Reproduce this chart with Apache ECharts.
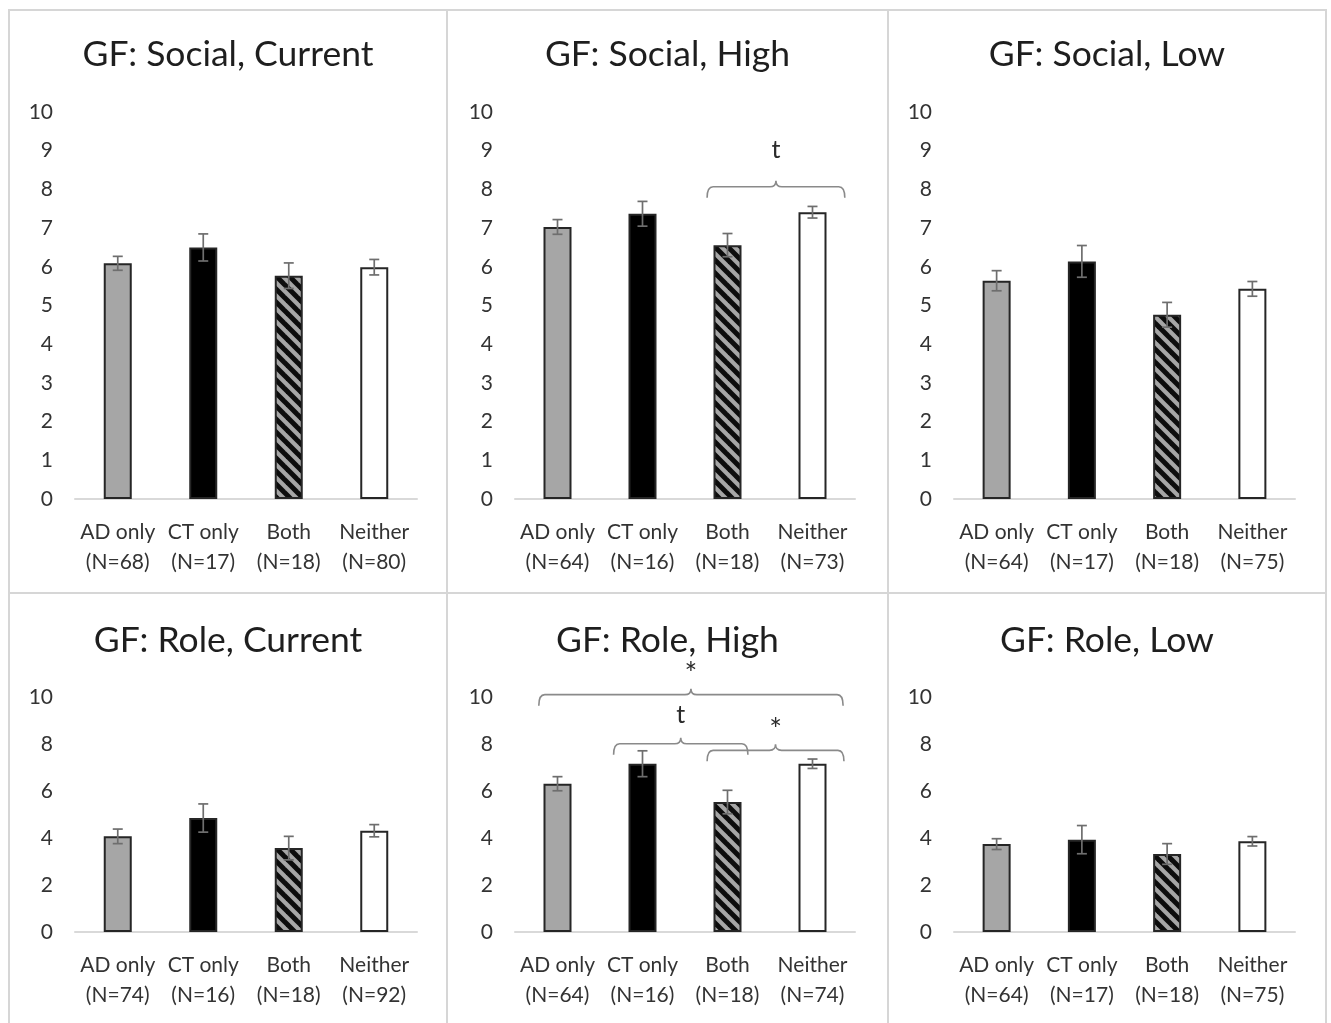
<!DOCTYPE html>
<html>
<head>
<meta charset="utf-8">
<script src="https://cdn.jsdelivr.net/npm/echarts@6/dist/echarts.min.js"></script>
<style>
  html, body { margin: 0; padding: 0; background: #ffffff; }
  #chart { width: 1331px; height: 1023px; }
</style>
</head>
<body>
<div id="chart"></div>
<script>
// ---- data -------------------------------------------------------------
const groups = ['AD only', 'CT only', 'Both', 'Neither'];

const titleSocialCurrent = 'GF: Social, Current';
const titleSocialHigh    = 'GF: Social, High';
const titleSocialLow     = 'GF: Social, Low';
const titleRoleCurrent   = 'GF: Role, Current';
const titleRoleHigh      = 'GF: Role, High';
const titleRoleLow       = 'GF: Role, Low';

const nSocialCurrent = [68, 17, 18, 80];
const nSocialHigh    = [64, 16, 18, 73];
const nSocialLow     = [64, 17, 18, 75];
const nRoleCurrent   = [74, 16, 18, 92];
const nRoleHigh      = [64, 16, 18, 74];
const nRoleLow       = [64, 17, 18, 75];

const meanSocialCurrent = [6.09, 6.50, 5.77, 5.99];
const meanSocialHigh    = [7.03, 7.37, 6.56, 7.41];
const meanSocialLow     = [5.64, 6.14, 4.76, 5.43];
const meanRoleCurrent   = [4.07, 4.85, 3.57, 4.31];
const meanRoleHigh      = [6.31, 7.16, 5.53, 7.16];
const meanRoleLow       = [3.74, 3.93, 3.32, 3.86];

const seSocialCurrent = [0.18, 0.35, 0.33, 0.20];
const seSocialHigh    = [0.19, 0.32, 0.30, 0.15];
const seSocialLow     = [0.26, 0.41, 0.32, 0.19];
const seRoleCurrent   = [0.31, 0.60, 0.50, 0.26];
const seRoleHigh      = [0.30, 0.55, 0.50, 0.20];
const seRoleLow       = [0.23, 0.60, 0.44, 0.20];

// significance brackets: span in category units, bar level and label level
const bracketsSocialHigh = [
  { from: 1.76, to: 3.38, level: 8.07, labelLevel: 9.03, label: 't' }
];
const bracketsRoleHigh = [
  { from: -0.22, to: 3.36, level: 10.1, labelLevel: 10.95, label: '*' },
  { from: 0.66,  to: 2.24, level: 8.01, labelLevel: 9.25,  label: 't' },
  { from: 1.76,  to: 3.37, level: 7.73, labelLevel: 8.6,   label: '*' }
];

const yTicksSocial = { min: 0, max: 10, interval: 1 };
const yTicksRole   = { min: 0, max: 10, interval: 2 };

// ---- panels -------------------------------------------------------------
const panels = [
  { title: titleSocialCurrent, n: nSocialCurrent, mean: meanSocialCurrent, se: seSocialCurrent, ticks: yTicksSocial, brackets: [] },
  { title: titleSocialHigh,    n: nSocialHigh,    mean: meanSocialHigh,    se: seSocialHigh,    ticks: yTicksSocial, brackets: bracketsSocialHigh },
  { title: titleSocialLow,     n: nSocialLow,     mean: meanSocialLow,     se: seSocialLow,     ticks: yTicksSocial, brackets: [] },
  { title: titleRoleCurrent,   n: nRoleCurrent,   mean: meanRoleCurrent,   se: seRoleCurrent,   ticks: yTicksRole,   brackets: [] },
  { title: titleRoleHigh,      n: nRoleHigh,      mean: meanRoleHigh,      se: seRoleHigh,      ticks: yTicksRole,   brackets: bracketsRoleHigh },
  { title: titleRoleLow,       n: nRoleLow,       mean: meanRoleLow,       se: seRoleLow,       ticks: yTicksRole,   brackets: [] }
];

// layout of the 3 x 2 panel grid (pixels)
const colFrames = [[9, 447], [447, 888], [888, 1326]];
const rowFrames = [[10, 593], [593, 1030]];
const plotCols  = [[75, 417], [515, 855], [954, 1295]];
const plotRows  = [[112, 499], [697, 932]];
const titleY    = [55, 641];

const FONT = 'Lato, "Open Sans", sans-serif';

// diagonal hatch tile for the "Both" group
function makeHatch() {
  const s = 13;
  const c = document.createElement('canvas');
  c.width = s; c.height = s;
  const g = c.getContext('2d');
  g.fillStyle = '#a6a6a6';
  g.fillRect(0, 0, s, s);
  g.strokeStyle = '#0d0d0d';
  g.lineWidth = 5;
  for (let k = -1; k <= 1; k++) {
    g.beginPath();
    g.moveTo(k * s - 2, -2);
    g.lineTo(k * s + s + 2, s + 2);
    g.stroke();
  }
  return c;
}
const hatch = { image: makeHatch(), repeat: 'repeat' };
const barFills = ['#a6a6a6', '#000000', hatch, '#ffffff'];

function renderErrorBar(params, api) {
  const x = api.value(0), m = api.value(1), s = api.value(2);
  const hi = api.coord([x, m + s]);
  const lo = api.coord([x, m - s]);
  const cap = 5;
  const st = { stroke: '#6e6e6e', lineWidth: 1.7 };
  return {
    type: 'group',
    children: [
      { type: 'line', shape: { x1: hi[0], y1: hi[1], x2: lo[0], y2: lo[1] }, style: st },
      { type: 'line', shape: { x1: hi[0] - cap, y1: hi[1], x2: hi[0] + cap, y2: hi[1] }, style: st },
      { type: 'line', shape: { x1: lo[0] - cap, y1: lo[1], x2: lo[0] + cap, y2: lo[1] }, style: st }
    ]
  };
}

function bracketRenderer(list) {
  return function (params, api) {
    const b = list[params.dataIndex];
    const bw = api.size([1, 0])[0];
    const base = api.coord([0, b.level]);
    const x1 = base[0] + b.from * bw;
    const x2 = base[0] + b.to * bw;
    const xc = (x1 + x2) / 2;
    const yb = base[1];
    const ly = api.coord([0, b.labelLevel])[1];
    const d = 11, r = 6, t = 6;
    const path =
      'M' + x1 + ',' + (yb + d) +
      ' Q' + x1 + ',' + yb + ' ' + (x1 + r) + ',' + yb +
      ' L' + (xc - r) + ',' + yb +
      ' Q' + xc + ',' + yb + ' ' + xc + ',' + (yb - t) +
      ' Q' + xc + ',' + yb + ' ' + (xc + r) + ',' + yb +
      ' L' + (x2 - r) + ',' + yb +
      ' Q' + x2 + ',' + yb + ' ' + x2 + ',' + (yb + d);
    const size = b.label === '*' ? 30 : 25;
    return {
      type: 'group',
      children: [
        { type: 'path', shape: { pathData: path }, style: { fill: 'none', stroke: '#8a8a8a', lineWidth: 1.6 } },
        { type: 'text', style: { x: xc, y: ly, text: b.label, align: 'center', verticalAlign: 'middle',
                                 font: size + 'px ' + FONT, fill: '#2b2b2b' } }
      ]
    };
  };
}

const grid = [], xAxis = [], yAxis = [], series = [], graphic = [];

// panel frames
rowFrames.forEach(function (rf) {
  colFrames.forEach(function (cf) {
    graphic.push({
      type: 'rect', silent: true, z: -10,
      shape: { x: cf[0], y: rf[0], width: cf[1] - cf[0], height: rf[1] - rf[0] },
      style: { fill: 'none', stroke: '#d6d6d6', lineWidth: 2 }
    });
  });
});

panels.forEach(function (p, i) {
  const col = i % 3, row = Math.floor(i / 3);
  const pc = plotCols[col], pr = plotRows[row];
  grid.push({ left: pc[0], top: pr[0], width: pc[1] - pc[0], height: pr[1] - pr[0], containLabel: false });

  graphic.push({
    type: 'text', silent: true,
    style: {
      x: (colFrames[col][0] + colFrames[col][1]) / 2, y: titleY[row],
      text: p.title, align: 'center', verticalAlign: 'middle',
      font: '35.5px ' + FONT, fill: '#1e1e1e'
    }
  });

  xAxis.push({
    type: 'category', gridIndex: i,
    data: groups.map(function (g, k) { return g + '\n(N=' + p.n[k] + ')'; }),
    axisLine: { lineStyle: { color: '#d9d9d9', width: 2 } },
    axisTick: { show: false },
    axisLabel: { interval: 0, color: '#333333', fontFamily: FONT, fontSize: 21, lineHeight: 30, margin: 18 }
  });
  yAxis.push({
    type: 'value', gridIndex: i,
    min: p.ticks.min, max: p.ticks.max, interval: p.ticks.interval,
    axisLine: { show: false }, axisTick: { show: false }, splitLine: { show: false },
    axisLabel: { color: '#333333', fontFamily: FONT, fontSize: 21, margin: 22 }
  });

  series.push({
    type: 'bar', xAxisIndex: i, yAxisIndex: i,
    barWidth: 28,
    data: p.mean.map(function (v, k) {
      return { value: v, itemStyle: { color: barFills[k], borderColor: '#262626', borderWidth: 2 } };
    }),
    silent: true
  });
  series.push({
    type: 'custom', xAxisIndex: i, yAxisIndex: i, z: 5, silent: true,
    renderItem: renderErrorBar,
    data: p.mean.map(function (v, k) { return [k, v, p.se[k]]; })
  });
  if (p.brackets.length) {
    series.push({
      type: 'custom', xAxisIndex: i, yAxisIndex: i, z: 6, silent: true, clip: false,
      renderItem: bracketRenderer(p.brackets),
      encode: { x: 0, y: 1 },
      data: p.brackets.map(function (b) { return [0, b.level]; })
    });
  }
});

const chart = echarts.init(document.getElementById('chart'), null, { renderer: 'canvas' });
chart.setOption({
  animation: false,
  backgroundColor: '#ffffff',
  grid: grid,
  xAxis: xAxis,
  yAxis: yAxis,
  series: series,
  graphic: graphic
});
</script>
</body>
</html>
